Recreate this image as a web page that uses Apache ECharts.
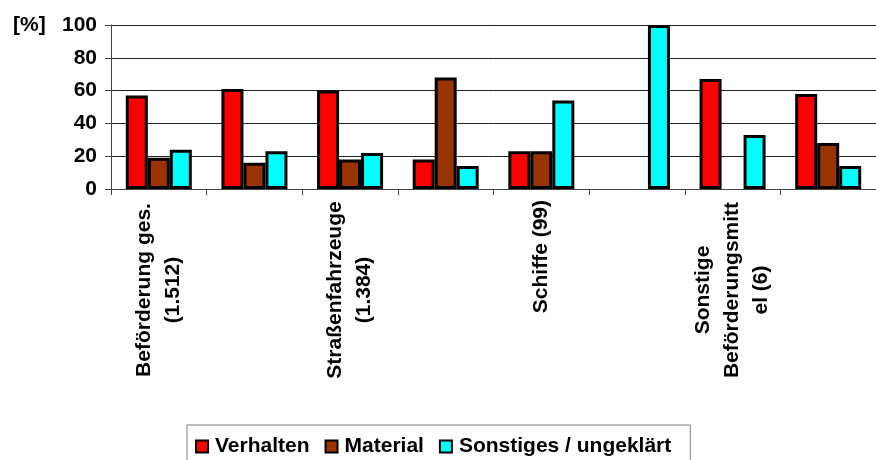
<!DOCTYPE html>
<html>
<head>
<meta charset="utf-8">
<script src="https://cdn.jsdelivr.net/npm/echarts@6/dist/echarts.min.js"></script>
<style>html,body{margin:0;padding:0;background:#fff}#c{width:876px;height:460px}</style>
</head>
<body>
<div id="c"></div>
<script>
const categories = ['Beförderung ges.\n(1.512)', ' ', 'Straßenfahrzeuge\n(1.384)', '  ', 'Schiffe (99)', '   ', 'Sonstige\nBeförderungsmitt\nel (6)', '    '];
const seriesNames = ['Verhalten', 'Material', 'Sonstiges / ungeklärt'];
const verhalten = [57, 61, 60, 18, 23, 0, 67, 58];
const material = [19, 16, 18, 68, 23, 0, 0, 28];
const sonstiges = [24, 23, 22, 14, 54, 100, 33, 14];
const yTicks = [0, 20, 40, 60, 80, 100];
const colors = ['#FF0000', '#993300', '#00FFFF'];

const font = 'Arial, "Liberation Sans", sans-serif';
const fs = 21;
const chart = echarts.init(document.getElementById('c'), null, {renderer: 'canvas'});
function mkSeries(name, data, color) {
  return {
    name: name, type: 'bar', data: data.map(v => v === 0 ? null : v),
    barWidth: 22, barGap: '0%',
    itemStyle: {color: color, borderColor: '#000', borderWidth: 3},
    emphasis: {disabled: true}
  };
}
chart.setOption({
  animation: false,
  title: {text: '[%]', left: 8, top: 10, textStyle: {fontFamily: font, fontWeight: 'bold', fontSize: fs, color: '#000'}},
  grid: {left: 111, right: -11, top: 25, bottom: 271, containLabel: false},
  legend: {
    data: seriesNames, top: 425, left: 187,
    padding: [11, 19, 30, 8],
    borderColor: '#808080', borderWidth: 1, backgroundColor: '#fff',
    itemWidth: 12, itemHeight: 12, itemGap: 15, icon: 'rect',
    itemStyle: {borderWidth: 2, borderColor: '#000'},
    textStyle: {fontFamily: font, fontWeight: 'bold', fontSize: fs, color: '#000', padding: [0, 0, 0, 2]}
  },
  xAxis: {
    type: 'category', data: categories,
    axisLine: {lineStyle: {color: '#444', width: 1}},
    axisTick: {show: true, interval: 0, length: 6, lineStyle: {color: '#444'}},
    axisLabel: {
      interval: 0, rotate: 90, margin: 11, color: '#000',
      fontFamily: font, fontWeight: 'bold', fontSize: fs, lineHeight: 29,
      formatter: function (val) {
        const lines = val.split('\n');
        if (lines.length === 1) return '{s|' + val + '}';
        return lines.map(l => '{m|' + l + '}').join('\n');
      },
      rich: {
        s: {fontFamily: font, fontWeight: 'bold', fontSize: fs, lineHeight: 29, color: '#000'},
        m: {fontFamily: font, fontWeight: 'bold', fontSize: fs, lineHeight: 29, color: '#000', width: 180, align: 'center'}
      }
    },
    splitLine: {show: false}
  },
  yAxis: {
    type: 'value', min: yTicks[0], max: yTicks[yTicks.length - 1], interval: 20,
    axisLine: {show: true, lineStyle: {color: '#444'}},
    axisTick: {show: true, length: 6, lineStyle: {color: '#444'}},
    axisLabel: {margin: 14, color: '#000', fontFamily: font, fontWeight: 'bold', fontSize: fs},
    splitLine: {show: true, lineStyle: {color: '#222', width: 1}}
  },
  series: [
    mkSeries(seriesNames[0], verhalten, colors[0]),
    mkSeries(seriesNames[1], material, colors[1]),
    mkSeries(seriesNames[2], sonstiges, colors[2])
  ]
});
</script>
</body>
</html>
